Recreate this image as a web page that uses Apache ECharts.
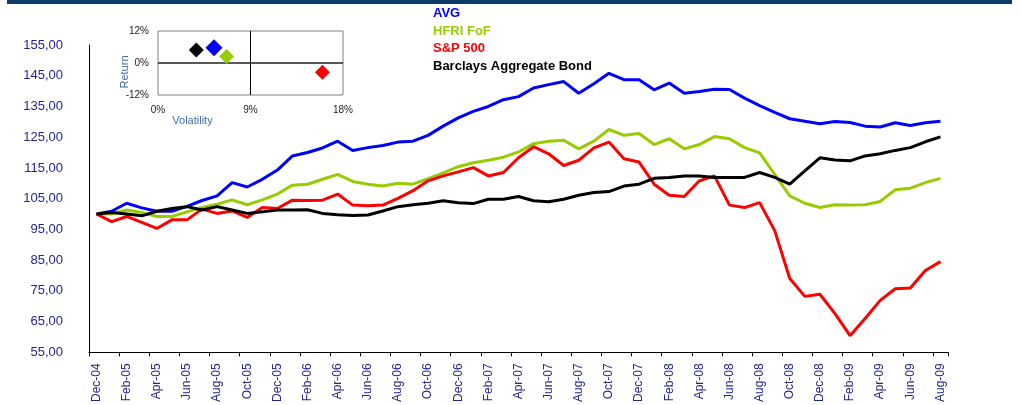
<!DOCTYPE html>
<html>
<head>
<meta charset="utf-8">
<script src="https://cdn.jsdelivr.net/npm/echarts@6/dist/echarts.min.js"></script>
<style>
  html, body { margin: 0; padding: 0; background: #fff; }
  #main { width: 1022px; height: 405px; }
</style>
</head>
<body>
<div id="main"></div>
<script>
// monthly categories, Dec-04 .. Aug-09
var months = [
  "Dec-04", "Jan-05", "Feb-05", "Mar-05", "Apr-05", "May-05", "Jun-05", "Jul-05", "Aug-05", "Sep-05", "Oct-05", "Nov-05",
  "Dec-05", "Jan-06", "Feb-06", "Mar-06", "Apr-06", "May-06", "Jun-06", "Jul-06", "Aug-06", "Sep-06", "Oct-06", "Nov-06",
  "Dec-06", "Jan-07", "Feb-07", "Mar-07", "Apr-07", "May-07", "Jun-07", "Jul-07", "Aug-07", "Sep-07", "Oct-07", "Nov-07",
  "Dec-07", "Jan-08", "Feb-08", "Mar-08", "Apr-08", "May-08", "Jun-08", "Jul-08", "Aug-08", "Sep-08", "Oct-08", "Nov-08",
  "Dec-08", "Jan-09", "Feb-09", "Mar-09", "Apr-09", "May-09", "Jun-09", "Jul-09", "Aug-09"
];

var avg = [
  100, 100.9, 103.5, 102, 100.9, 100.9, 102.5, 104.4, 105.9, 110.2, 108.8, 111.3,
  114.3, 118.9, 120, 121.5, 123.7, 120.7, 121.6, 122.3, 123.4, 123.7, 125.6, 128.6,
  131.3, 133.4, 135, 137.2, 138.2, 141, 142.1, 143.1, 139.3, 142.4, 145.8, 143.7,
  143.7, 140.4, 142.6, 139.3, 139.9, 140.6, 140.5, 137.7, 135.3, 133.1, 131, 130.2,
  129.4, 130.1, 129.8, 128.6, 128.3, 129.7, 128.8, 129.7, 130.2
];
var hfri = [
  100, 100, 101.3, 100.5, 99.2, 99.2, 100.7, 102.1, 103.2, 104.6, 103, 104.6,
  106.5, 109.4, 109.7, 111.3, 112.9, 110.6, 109.7, 109.1, 110, 109.7, 111.5, 113.4,
  115.4, 116.7, 117.5, 118.5, 120.2, 122.9, 123.7, 124, 121.2, 123.7, 127.5, 125.6,
  126.2, 122.6, 124.5, 121.2, 122.6, 125.2, 124.5, 121.6, 119.9, 112.9, 105.9, 103.5,
  102.1, 103, 102.9, 103, 104.1, 107.9, 108.4, 110.2, 111.6
];
var sp500 = [
  100, 97.5, 99.2, 97.3, 95.3, 98.1, 98.1, 101.6, 100.2, 101, 98.9, 102.1,
  101.8, 104.5, 104.4, 104.5, 106.5, 102.9, 102.7, 102.9, 105.1, 107.6, 110.8, 112.4,
  113.7, 115.1, 112.4, 113.5, 118.3, 121.9, 119.6, 115.8, 117.5, 121.5, 123.4, 118,
  116.9, 109.7, 106.1, 105.7, 110.8, 112.4, 102.9, 102.1, 103.7, 94.6, 79, 73.2,
  73.9, 67.6, 60.4, 66, 71.9, 75.7, 75.9, 81.6, 84.5
];
var barclays = [
  100, 100.5, 100, 99.4, 100.9, 101.8, 102.4, 101.3, 102.4, 101.3, 100.2, 100.7,
  101.3, 101.3, 101.4, 100.2, 99.8, 99.5, 99.7, 101, 102.4, 103, 103.5, 104.3,
  103.7, 103.4, 104.8, 104.8, 105.7, 104.3, 104, 104.8, 106.1, 107, 107.3, 109.1,
  109.7, 111.6, 111.9, 112.4, 112.4, 111.9, 111.9, 111.9, 113.5, 111.9, 109.7, 114,
  118.3, 117.6, 117.3, 118.9, 119.6, 120.7, 121.6, 123.5, 125.1
];

var names = ["AVG", "HFRI FoF", "S&P 500", "Barclays Aggregate Bond"];
var colors = ["#0000ff", "#99cc00", "#ff0000", "#000000"];

// risk / return inset (percent)
var volatility = [5.45, 6.68, 16.0, 3.73];
var annReturn = [5.7, 2.4, -3.5, 4.9];

var yTicks = { min: 55, max: 155, step: 10 };

var navy = "#25258f";
var chart = echarts.init(document.getElementById("main"), null, { renderer: "canvas" });

var lineSeries = [avg, hfri, sp500, barclays].map(function (d, i) {
  return {
    name: names[i],
    type: "line",
    xAxisIndex: 0,
    yAxisIndex: 0,
    data: d,
    symbol: "none",
    lineStyle: { color: colors[i], width: 3 },
    itemStyle: { color: colors[i] },
    z: 3
  };
});

var scatterSeries = {
  type: "scatter",
  xAxisIndex: 1,
  yAxisIndex: 1,
  symbol: "diamond",
  data: volatility.map(function (v, i) {
    return {
      value: [v / 100, annReturn[i] / 100],
      symbolSize: i === 0 ? 17 : 15,
      itemStyle: { color: colors[i], opacity: 1 }
    };
  }),
  z: 5,
  markLine: {
    silent: true,
    symbol: "none",
    label: { show: false },
    data: [
      { xAxis: 0.09, lineStyle: { color: "#000", width: 1, type: "solid" } },
      { yAxis: 0, lineStyle: { color: "#222", width: 1.5, type: "solid" } }
    ]
  }
};

var option = {
  animation: false,
  backgroundColor: "#fff",
  textStyle: { fontFamily: "Liberation Sans, Arial, sans-serif" },
  graphic: [
    { type: "rect", left: 7, top: 0, shape: { width: 1005, height: 4 }, style: { fill: "#0b3a6b" } }
  ],
  legend: {
    orient: "vertical",
    left: 427,
    top: 5,
    padding: 0,
    itemWidth: 0,
    itemHeight: 0,
    itemGap: 0,
    selectedMode: false,
    textStyle: { fontSize: 13, fontWeight: "bold", lineHeight: 17.5 },
    data: names.map(function (n, i) {
      return { name: n, textStyle: { color: colors[i] } };
    })
  },
  grid: [
    { left: 89, top: 45, width: 859, height: 309 },
    { left: 158, top: 31, width: 185, height: 64, show: true, borderColor: "#808080", borderWidth: 1, backgroundColor: "#fff", z: 4 }
  ],
  xAxis: [
    {
      gridIndex: 0,
      type: "category",
      data: months,
      boundaryGap: true,
      axisLine: { lineStyle: { color: "#000", width: 1 } },
      axisTick: { show: true, interval: 1, length: 4, lineStyle: { color: "#000" } },
      axisLabel: { interval: 1, rotate: 90, margin: 11, fontSize: 12, color: navy },
      splitLine: { show: false }
    },
    {
      gridIndex: 1,
      type: "value",
      min: 0,
      max: 0.18,
      interval: 0.09,
      axisLine: { show: false },
      axisTick: { show: false },
      splitLine: { show: false },
      axisLabel: {
        margin: 10,
        fontSize: 10,
        color: "#222",
        formatter: function (v) { return Math.round(v * 100) + "%"; }
      },
      name: "Volatility",
      nameLocation: "middle",
      nameGap: 20,
      nameMoveOverlap: false,
      nameTextStyle: { fontSize: 11, color: "#3d6ba8", padding: [0, 116, 0, 0] },
      z: 5
    }
  ],
  yAxis: [
    {
      gridIndex: 0,
      type: "value",
      min: yTicks.min,
      max: yTicks.max,
      interval: yTicks.step,
      axisLine: { show: true, lineStyle: { color: "#000", width: 1 } },
      axisTick: { show: false },
      splitLine: { show: false },
      axisLabel: {
        margin: 26,
        fontSize: 13,
        color: navy,
        formatter: function (v) { return v.toFixed(2).replace(".", ","); }
      }
    },
    {
      gridIndex: 1,
      type: "value",
      min: -0.12,
      max: 0.12,
      interval: 0.12,
      axisLine: { show: false },
      axisTick: { show: false },
      splitLine: { show: false },
      axisLabel: {
        margin: 9,
        fontSize: 10,
        color: "#222",
        formatter: function (v) { return Math.round(v * 100) + "%"; }
      },
      name: "Return",
      nameLocation: "middle",
      nameGap: 28,
      nameMoveOverlap: false,
      nameTextStyle: { fontSize: 11, color: "#3d6ba8", padding: [0, 18, 0, 0] },
      z: 5
    }
  ],
  series: lineSeries.concat([scatterSeries])
};

chart.setOption(option);
</script>
</body>
</html>
